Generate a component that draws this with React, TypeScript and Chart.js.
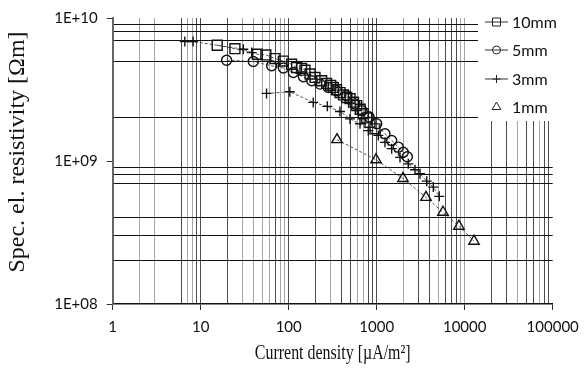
import React, { useEffect, useRef } from "react";
import { Chart, registerables } from "chart.js";

Chart.register(...registerables);

// ---------- data ----------
const seriesNames = ["10mm", "5mm", "3mm", "1mm"];

const x10mm = [15.4, 24.5, 44, 55, 70, 87, 108, 123, 140, 153, 175, 199, 237, 270, 300, 321, 350, 383, 420, 456, 498, 545, 593, 650, 704, 770, 839, 956];
const y10mm = [6.45e9, 6.1e9, 5.58e9, 5.52e9, 5.2e9, 5.0e9, 4.75e9, 4.5e9, 4.45e9, 4.32e9, 4.06e9, 3.84e9, 3.64e9, 3.49e9, 3.38e9, 3.27e9, 3.15e9, 3.01e9, 2.9e9, 2.78e9, 2.73e9, 2.58e9, 2.44e9, 2.3e9, 2.14e9, 2.0e9, 1.86e9, 1.68e9];

const x5mm = [19.7, 39.6, 64, 87, 113, 147, 183, 227, 282, 351, 456, 566, 680, 817, 1000, 1241, 1480, 1760, 2005, 2228];
const y5mm = [5.07e9, 4.96e9, 4.63e9, 4.47e9, 4.16e9, 3.88e9, 3.64e9, 3.45e9, 3.27e9, 3.1e9, 2.86e9, 2.51e9, 2.25e9, 2.04e9, 1.82e9, 1.55e9, 1.39e9, 1.25e9, 1.15e9, 1.07e9];

// null value separates the two groups of the 3mm series
const x3mm = [6.6, 8.2, 30.5, 38, 45, 56, 103, 190, 275, 383, 497, 646, 803, 1043, 1242, 1480, 1840, 2285, 2724, 3105, 3700, 4400, 5140];
const y3mm = [6.84e9, 6.84e9, 6.05e9, 5.73e9, null, 2.97e9, 3.05e9, 2.57e9, 2.41e9, 2.22e9, 1.97e9, 1.82e9, 1.63e9, 1.51e9, 1.35e9, 1.22e9, 1.06e9, 9.55e8, 8.68e8, 8.14e8, 7.23e8, 6.57e8, 5.66e8];

const x1mm = [354, 982, 1990, 3631, 5666, 8600, 12760];
const y1mm = [1.41e9, 1.02e9, 7.55e8, 5.57e8, 4.38e8, 3.5e8, 2.75e8];

// ---------- axes ----------
const xMin = 1;
const xMax = 100000;
const yMin = 1e8;
const yMax = 1e10;
const xDecades = [1, 10, 100, 1000, 10000, 100000];
const xGridGray = [2, 3, 7, 8, 30, 40, 50, 60, 80, 90, 300, 600, 700, 2000, 5000, 9000, 10000, 40000, 70000];
const xGridDark = [6, 9, 10, 20, 70, 100, 200, 400, 500, 800, 900, 1000, 3000, 4000, 6000, 7000, 8000, 20000, 30000, 50000, 60000, 80000, 90000];
const yDecades = [1e8, 1e9, 1e10];
const yGridLines = [2e8, 3e8, 4e8, 7e8, 8e8, 9e8, 2e9, 5e9, 7e9, 8e9, 9e9];

const xTitle = "Current density [\u00B5A/m\u00B2]";
const yTitle = "Spec. el. resistivity [\u03A9m]";

const toPoints = (xs: number[], ys: (number | null)[]) => xs.map((x, i) => ({ x, y: ys[i] }));

const SANS = "Lato, 'Open Sans', 'DejaVu Sans', sans-serif";
const SERIF = "'Liberation Serif', 'Times New Roman', serif";

function drawMarker(ctx: CanvasRenderingContext2D, style: string, x: number, y: number, r: number) {
  ctx.beginPath();
  if (style === "rect") {
    ctx.rect(x - r, y - r, 2 * r, 2 * r);
  } else if (style === "circle") {
    ctx.arc(x, y, r, 0, Math.PI * 2);
  } else if (style === "cross") {
    ctx.moveTo(x - r, y);
    ctx.lineTo(x + r, y);
    ctx.moveTo(x, y - r);
    ctx.lineTo(x, y + r);
  } else if (style === "triangle") {
    ctx.moveTo(x, y - r);
    ctx.lineTo(x + r * 0.87, y + r * 0.5);
    ctx.lineTo(x - r * 0.87, y + r * 0.5);
    ctx.closePath();
  }
  ctx.stroke();
}

const markerStyles = ["rect", "circle", "cross", "triangle"];
const legendHasLine = [true, true, true, false];

const overlayPlugin = {
  id: "overlay",
  afterDraw(chart: any) {
    const ctx: CanvasRenderingContext2D = chart.ctx;
    const area = chart.chartArea;
    ctx.save();
    // legend box
    ctx.fillStyle = "#ffffff";
    ctx.fillRect(478, 0, 109, 121);
    const rows = [22, 50, 79, 107];
    seriesNames.forEach((name, i) => {
      const y = rows[i];
      ctx.strokeStyle = "#333";
      ctx.lineWidth = 1;
      if (legendHasLine[i]) {
        ctx.beginPath();
        ctx.moveTo(485, y);
        ctx.lineTo(508, y);
        ctx.stroke();
      }
      ctx.strokeStyle = "#222";
      ctx.lineWidth = 1;
      drawMarker(ctx, markerStyles[i], 496.5, y, markerStyles[i] === "triangle" ? 5 : 4);
      ctx.fillStyle = "#111";
      ctx.font = "16px " + SANS;
      ctx.textAlign = "left";
      ctx.textBaseline = "middle";
      ctx.fillText(name, 512, y + 1);
    });
    // axis titles
    ctx.fillStyle = "#111";
    ctx.textAlign = "center";
    ctx.textBaseline = "middle";
    ctx.save();
    ctx.translate((area.left + area.right) / 2, 353);
    ctx.scale(0.76, 1);
    ctx.font = "21px " + SERIF;
    ctx.fillText(xTitle, 0, 0);
    ctx.restore();
    ctx.save();
    ctx.translate(18, 152);
    ctx.rotate(-Math.PI / 2);
    ctx.font = "24px " + SERIF;
    ctx.fillText(yTitle, 0, 0);
    ctx.restore();
    ctx.restore();
  },
};

export default function App() {
  const canvasRef = useRef<HTMLCanvasElement | null>(null);

  useEffect(() => {
    document.body.style.margin = "0";
    const canvas = canvasRef.current;
    if (!canvas) return;

    const lineCommon = {
      showLine: true,
      borderColor: "#444",
      borderWidth: 0.9,
      borderDash: [3, 2],
      pointBorderColor: "#111",
      pointBackgroundColor: "rgba(0,0,0,0)",
      pointBorderWidth: 1.4,
      spanGaps: false,
      fill: false,
    };

    const xTickValues = Array.from(new Set([...xDecades, ...xGridGray, ...xGridDark])).sort((a, b) => a - b);
    const yTickValues = Array.from(new Set([...yDecades, ...yGridLines])).sort((a, b) => a - b);

    const chart = new Chart(canvas, {
      type: "scatter",
      data: {
        datasets: [
          { ...lineCommon, label: seriesNames[0], data: toPoints(x10mm, y10mm), pointStyle: "rect", pointRadius: 7 },
          { ...lineCommon, label: seriesNames[1], data: toPoints(x5mm, y5mm), pointStyle: "circle", pointRadius: 5 },
          { ...lineCommon, label: seriesNames[2], data: toPoints(x3mm, y3mm), pointStyle: "cross", pointRadius: 5 },
          { ...lineCommon, label: seriesNames[3], data: toPoints(x1mm, y1mm), pointStyle: "triangle", pointRadius: 6 },
        ] as any,
      },
      options: {
        animation: false,
        responsive: false,
        maintainAspectRatio: false,
        events: [],
        layout: { padding: { left: 0, top: 17, right: 34.3, bottom: 0 } },
        plugins: { legend: { display: false }, tooltip: { enabled: false }, title: { display: false } },
        scales: {
          x: {
            type: "logarithmic",
            min: xMin,
            max: xMax,
            afterBuildTicks: (s: any) => {
              s.ticks = xTickValues.map((v) => ({ value: v, major: xDecades.includes(v) }));
            },
            afterFit: (s: any) => {
              s.height = 68;
            },
            ticks: {
              autoSkip: false,
              maxRotation: 0,
              padding: 8,
              color: "#111",
              font: { family: SANS, size: 15 },
              callback: (v: any) => (xDecades.includes(Number(v)) ? String(v) : ""),
            },
            grid: {
              drawTicks: true,
              tickLength: 6,
              lineWidth: 1,
              color: (c: any) => {
                const v = c.tick ? c.tick.value : 0;
                if (v === xMin || v === xMax) return "rgba(0,0,0,0)";
                if (xGridGray.includes(v)) return "#a5a5a5";
                return "#4d4d4d";
              },
              tickColor: (c: any) => {
                const v = c.tick ? c.tick.value : 0;
                return xDecades.includes(v) ? "#333" : "rgba(0,0,0,0)";
              },
            },
            border: { display: true, color: "#111", width: 1.5 },
          },
          y: {
            type: "logarithmic",
            min: yMin,
            max: yMax,
            afterBuildTicks: (s: any) => {
              s.ticks = yTickValues.map((v) => ({ value: v, major: yDecades.includes(v) }));
            },
            afterFit: (s: any) => {
              s.width = 112.7;
            },
            ticks: {
              autoSkip: false,
              padding: 9,
              color: "#111",
              font: { family: SANS, size: 15 },
              callback: (v: any) => {
                const n = Number(v);
                if (!yDecades.includes(n)) return "";
                const e = Math.round(Math.log10(n));
                return "1E+" + String(e).padStart(2, "0");
              },
            },
            grid: {
              drawTicks: true,
              tickLength: 6,
              lineWidth: 1,
              color: (c: any) => {
                const v = c.tick ? c.tick.value : 0;
                return yGridLines.includes(v) ? "#111" : "rgba(0,0,0,0)";
              },
              tickColor: (c: any) => {
                const v = c.tick ? c.tick.value : 0;
                return yDecades.includes(v) ? "#333" : "rgba(0,0,0,0)";
              },
            },
            border: { display: true, color: "#666", width: 2 },
          },
        },
      } as any,
      plugins: [overlayPlugin],
    });

    return () => {
      chart.destroy();
    };
  }, []);

  return (
    <div style={{ position: "relative", width: 587, height: 372, background: "#fff" }}>
      <canvas ref={canvasRef} width={587} height={372} style={{ display: "block" }} />
    </div>
  );
}
